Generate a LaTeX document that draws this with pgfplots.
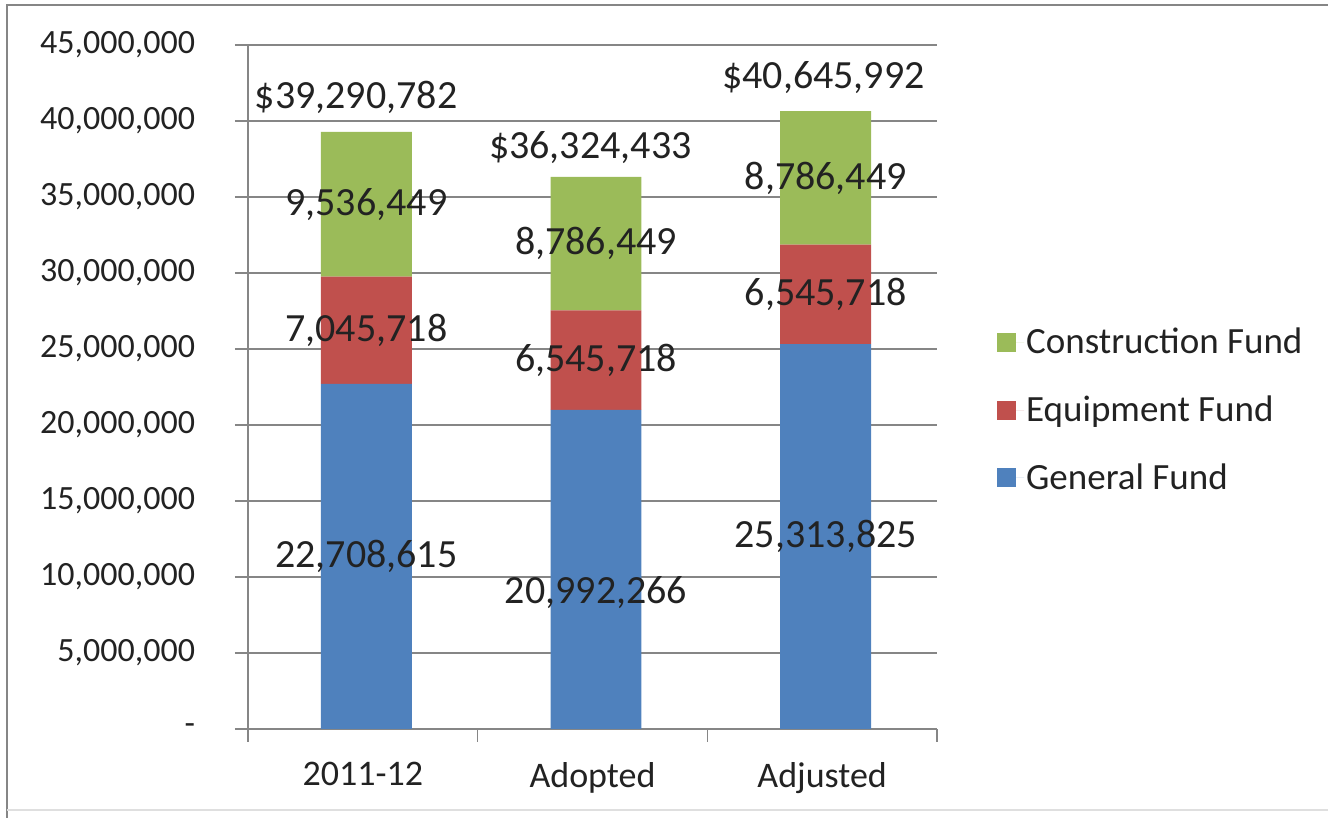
\documentclass[border=0pt]{standalone}
\usepackage{pgfplots}
\pgfplotsset{compat=1.18}
\usepackage{pgfplotstable}
\usepackage{fontspec}
\setmainfont{Carlito}
\definecolor{cBlue}{HTML}{4F81BD}
\definecolor{cRed}{HTML}{C0504D}
\definecolor{cGreen}{HTML}{9BBB59}
\definecolor{cGrid}{HTML}{868686}
\definecolor{cText}{HTML}{222222}

% segment values of each fund
\pgfplotstableread{
x y
0 22708615
1 20992266
2 25313825
}\general
\pgfplotstableread{
x y
0 7045718
1 6545718
2 6545718
}\equipment
\pgfplotstableread{
x y
0 9536449
1 8786449
2 8786449
}\construction
% data labels: where each label sits, and its text
\pgfplotstableread{
x y label
0 11354308 22,708,615
1 8950000  20,992,266
2 12656913 25,313,825
0 26231474 7,045,718
1 24265125 6,545,718
2 28586684 6,545,718
0 34522558 9,536,449
1 31931209 8,786,449
2 36252768 8,786,449
-0.045 41580000 \$39,290,782
0.975 38220000 \$36,324,433
1.99 42830000 \$40,645,992
}\labels

\begin{document}
\begin{tikzpicture}
\useasboundingbox (0,0) rectangle (664pt,409pt);
\draw[cGrid, line width=1pt] (3.5pt,0pt) -- (3.5pt,406.5pt) -- (664pt,406.5pt);
\draw[gray!25, line width=0.8pt] (3.5pt,4pt) -- (664pt,4pt);
\begin{axis}[
  at={(124pt,44.5pt)}, anchor=south west,
  scale only axis, width=344.5pt, height=342pt,
  ybar stacked, bar width=0.396, bar shift=1.75pt,
  xmin=-0.5, xmax=2.5, ymin=0, ymax=45000000,
  axis x line*=bottom, axis y line*=left,
  axis line style={-, draw=cGrid, line width=0.75pt},
  xtick={-0.5,0.5,1.5,2.5}, xticklabels={},
  extra x ticks={0,1,2},
  extra x tick labels={2011-12,Adopted,Adjusted},
  extra x tick style={xtick style={draw=none}},
  ytick={0,5000000,10000000,15000000,20000000,25000000,30000000,35000000,40000000,45000000},
  yticklabels={{-},{5,000,000},{10,000,000},{15,000,000},{20,000,000},{25,000,000},{30,000,000},{35,000,000},{40,000,000},{45,000,000}},
  scaled y ticks=false,
  tick align=outside,
  major tick length=6.5pt,
  tick style={draw=cGrid, line width=0.75pt},
  ymajorgrids,
  major grid style={draw=cGrid, line width=0.75pt},
  clip=false,
  /pgf/number format/assume math mode=true,
  yticklabel style={font=\fontsize{17}{20}\selectfont, text=cText, anchor=east, xshift=-16.5pt},
  xticklabel style={font=\fontsize{18}{21}\selectfont, text=cText, anchor=north, yshift=-6.5pt},
  legend style={at={(1.078,0.466)}, anchor=west, draw=none, fill=none,
    font=\fontsize{18.5}{21}\selectfont, text=cText, row sep=17.5pt,
    nodes={inner sep=1pt}},
  legend cell align=left,
  reverse legend,
  legend image code/.code={\fill[#1] (0pt,-4.75pt) rectangle (9.5pt,4.75pt); \path (0pt,0pt) -- (13.5pt,0pt);},
]
\addplot[fill=cBlue, draw=none] table[x=x, y=y] {\general};
\addlegendentry{General Fund}
\addplot[fill=cRed, draw=none] table[x=x, y=y] {\equipment};
\addlegendentry{Equipment Fund}
\addplot[fill=cGreen, draw=none] table[x=x, y=y] {\construction};
\addlegendentry{Construction Fund}
\end{axis}
\begin{axis}[
  at={(124pt,44.5pt)}, anchor=south west,
  scale only axis, width=344.5pt, height=342pt,
  xmin=-0.5, xmax=2.5, ymin=0, ymax=45000000,
  hide axis, clip=false,
]
\addplot[only marks, mark=none, nodes near coords, point meta=explicit symbolic,
  every node near coord/.style={anchor=center, xshift=1.75pt, font=\fontsize{20}{23}\selectfont, text=cText}]
  table[x=x, y=y, meta=label] {\labels};
\end{axis}
\end{tikzpicture}
\end{document}
